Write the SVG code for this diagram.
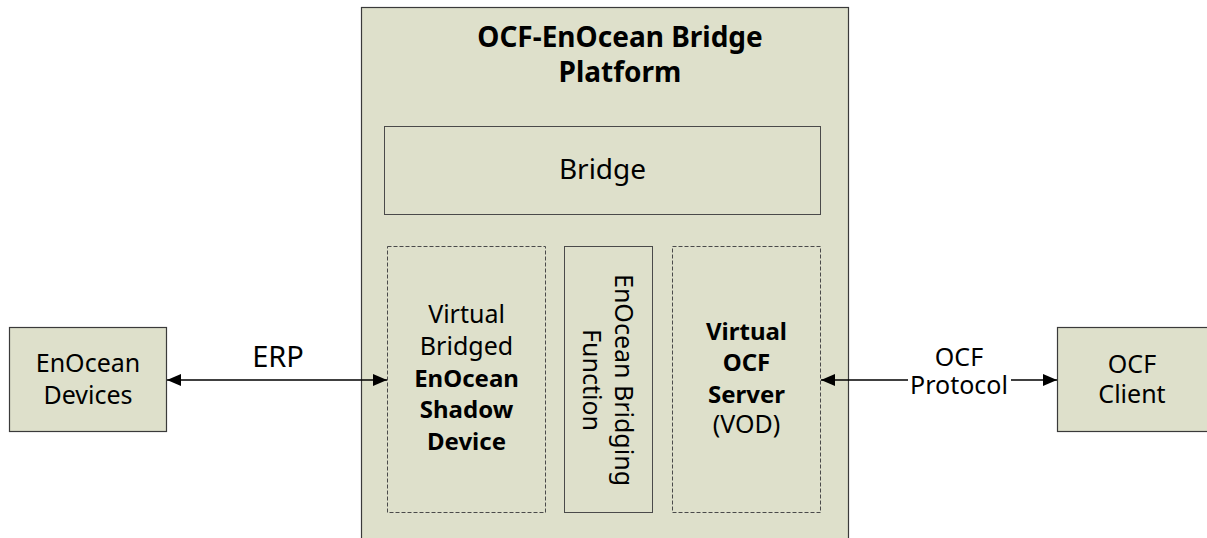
<svg xmlns="http://www.w3.org/2000/svg" width="1207" height="538" viewBox="0 0 1207 538">
<style>
.box{fill:#DEE0CB;stroke:#3a3a3a;stroke-width:1.2}
.inner{fill:#DEE0CB;stroke:#4a4a4a;stroke-width:1}
.dash{fill:#DEE0CB;stroke:#4a4a4a;stroke-width:1;stroke-dasharray:4 2}
text{font-family:"Noto Sans","Open Sans","Liberation Sans",sans-serif;fill:#000;text-anchor:middle}
.t{font-size:25px}
.b{font-size:24px;font-weight:bold}
.title{font-size:28px;font-weight:bold}
.conn{stroke:#000;stroke-width:1.4;fill:none}
</style>
<defs>
<marker id="ah" viewBox="0 0 14 12" refX="14" refY="6" markerWidth="14" markerHeight="12" markerUnits="userSpaceOnUse" orient="auto-start-reverse">
<path d="M0,0 L14,6 L0,12 Z" fill="#000"/>
</marker>
</defs>
<rect x="0" y="0" width="1207" height="538" fill="#fff"/>
<g id="platform">
<rect class="box" x="361.5" y="7.5" width="487" height="540"/>
<text class="title" x="620" y="47">OCF-EnOcean Bridge</text>
<text class="title" x="620" y="82">Platform</text>
</g>
<g id="bridge">
<rect class="inner" x="384.5" y="126.5" width="436" height="88"/>
<text class="t" x="602.5" y="179" style="font-size:28px">Bridge</text>
</g>
<g id="shadow">
<rect class="dash" x="387.5" y="246.5" width="158" height="266"/>
<text class="t" x="466.5" y="323">Virtual</text>
<text class="t" x="466.5" y="355">Bridged</text>
<text class="b" x="466.5" y="387">EnOcean</text>
<text class="b" x="466.5" y="418">Shadow</text>
<text class="b" x="466.5" y="450">Device</text>
</g>
<g id="bridging">
<rect class="inner" x="564.5" y="246.5" width="88" height="266"/>
<text class="t" transform="translate(600,380) rotate(90)" x="0" y="-15">EnOcean Bridging</text>
<text class="t" transform="translate(600,380) rotate(90)" x="0" y="17">Function</text>
</g>
<g id="vod">
<rect class="dash" x="672.5" y="246.5" width="148" height="266"/>
<text class="b" x="746.5" y="340">Virtual</text>
<text class="b" x="746.5" y="371">OCF</text>
<text class="b" x="746.5" y="403">Server</text>
<text class="t" x="746.5" y="433">(VOD)</text>
</g>
<g id="enocean-devices">
<rect class="box" x="9.5" y="327.5" width="157" height="104"/>
<text class="t" x="88" y="372">EnOcean</text>
<text class="t" x="88" y="404">Devices</text>
</g>
<g id="ocf-client">
<rect class="box" x="1057.5" y="327.5" width="160" height="104"/>
<text class="t" x="1132" y="373">OCF</text>
<text class="t" x="1132" y="403">Client</text>
</g>
<g id="connectors">
<line class="conn" x1="167" y1="380" x2="387" y2="380" marker-start="url(#ah)" marker-end="url(#ah)"/>
<text class="t" x="278" y="367" style="font-size:29px">ERP</text>
<line class="conn" x1="821" y1="380" x2="1057" y2="380" marker-start="url(#ah)" marker-end="url(#ah)"/>
<rect x="908" y="370" width="103" height="24" fill="#fff"/>
<text class="t" x="959" y="366">OCF</text>
<text class="t" x="959" y="394">Protocol</text>
</g>
</svg>
